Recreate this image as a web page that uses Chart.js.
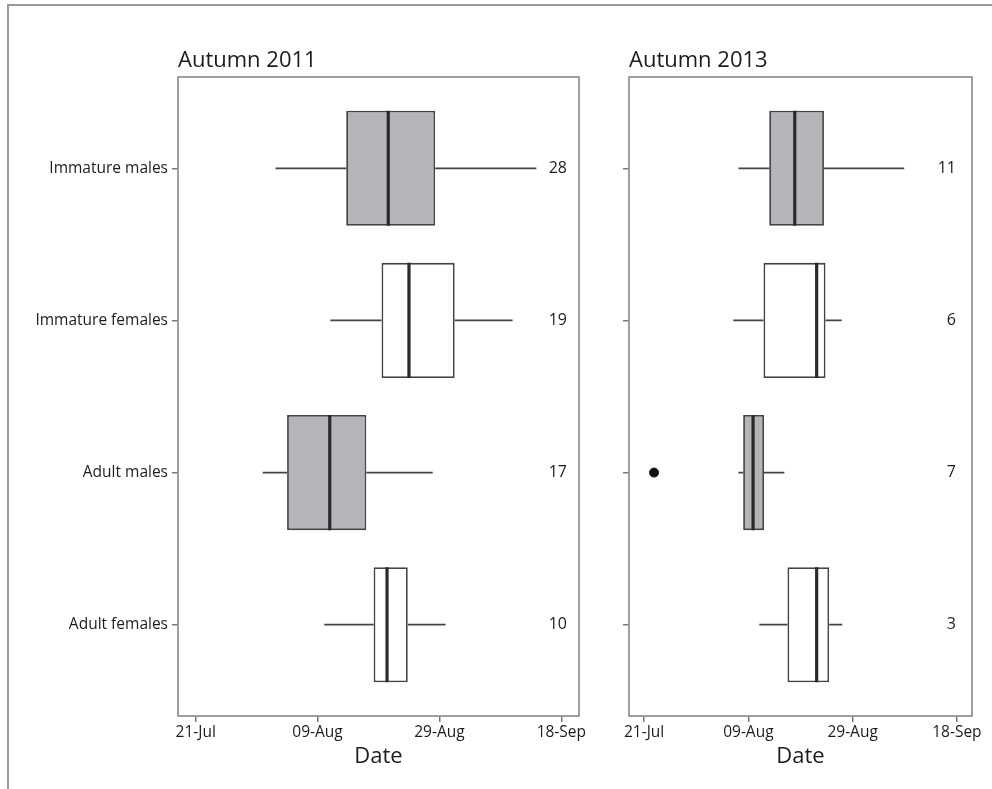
<!DOCTYPE html>
<html>
<head>
<meta charset="utf-8">
<script src="https://cdn.jsdelivr.net/npm/chart.js@4.4.1/dist/chart.umd.min.js"></script>
<style>
  html, body { margin: 0; padding: 0; background: #fff; }
  #wrap { position: relative; width: 992px; height: 789px; overflow: hidden; }
  #frame { position: absolute; left: 7px; top: 4px; width: 992px; height: 800px;
           border-top: 2px solid #9a9a9a; border-left: 2px solid #9a9a9a; }
  #c1 { position: absolute; left: 0; top: 0; }
  #c2 { position: absolute; left: 592px; top: 0; }
</style>
</head>
<body>
<div id="wrap">
  <div id="frame"></div>
  <canvas id="c1" width="592" height="789"></canvas>
  <canvas id="c2" width="400" height="789"></canvas>
</div>
<script>
// ---------- DATA (x values: days, tick 0 = 21-Jul, 20-day tick spacing) ----------
const categories = ['Immature males', 'Immature females', 'Adult males', 'Adult females'];
const tickValues = [0, 20, 40, 60];
const tickLabels = ['21-Jul', '09-Aug', '29-Aug', '18-Sep'];

const low2011    = [13.1, 22.1, 11.0, 21.1];
const q1_2011    = [24.7, 30.5, 15.0, 29.2];
const median2011 = [31.6, 35.0, 22.0, 31.4];
const q3_2011    = [39.3, 42.5, 28.0, 34.8];
const high2011   = [55.9, 52.0, 38.9, 41.0];
const counts2011 = [28, 19, 17, 10];

const low2013    = [18.1, 17.1, 18.1, 22.1];
const q1_2013    = [24.0, 22.9, 19.0, 27.5];
const median2013 = [28.9, 33.1, 20.9, 33.1];
const q3_2013    = [34.5, 34.8, 23.0, 35.5];
const high2013   = [49.9, 37.9, 26.9, 38.0];
const counts2013 = [11, 6, 7, 3];
const outlierCat2013 = [2];
const outlierVal2013 = [1.9];

// ---------- STYLE ----------
const FONT = "'Open Sans', 'DejaVu Sans', sans-serif";
const TEXT = '#1c1c1c';
const BOX_FILL_MALE = '#b4b5b9';
const BOX_FILL_FEMALE = '#ffffff';
const BOX_EDGE = '#444444';
const MEDIAN = '#2a2a2a';
const FRAME = '#959595';
const BAR_PCT = 0.757;
const HALF = BAR_PCT / 2;

function buildDatasets(low, q1, med, q3, high, outCat, outVal) {
  const boxes = categories.map((c, i) => ({ x: [q1[i], q3[i]], y: i }));
  const whiskers = [];
  const medians = [];
  categories.forEach((c, i) => {
    whiskers.push({ x: low[i], y: i }, { x: q1[i], y: i }, { x: null, y: null });
    whiskers.push({ x: q3[i], y: i }, { x: high[i], y: i }, { x: null, y: null });
    medians.push({ x: med[i], y: i - HALF }, { x: med[i], y: i + HALF }, { x: null, y: null });
  });
  const ds = [
    {
      type: 'bar', data: boxes, order: 3,
      backgroundColor: (ctx) => (ctx.dataIndex % 2 === 0 ? BOX_FILL_MALE : BOX_FILL_FEMALE),
      borderColor: BOX_EDGE, borderWidth: 1.8, borderSkipped: false,
      barPercentage: BAR_PCT, categoryPercentage: 1, grouped: false
    },
    {
      type: 'line', data: whiskers, order: 2, borderColor: BOX_EDGE, borderWidth: 1.8,
      pointRadius: 0, spanGaps: false, fill: false, tension: 0
    },
    {
      type: 'line', data: medians, order: 1, borderColor: MEDIAN, borderWidth: 3.2,
      pointRadius: 0, spanGaps: false, fill: false, tension: 0
    }
  ];
  if (outCat && outCat.length) {
    ds.push({
      type: 'scatter', data: outCat.map((c, k) => ({ x: outVal[k], y: c })), order: 0,
      pointRadius: 4.5, pointBackgroundColor: '#111', pointBorderColor: '#111', showLine: false
    });
  }
  return ds;
}

const framePlugin = {
  id: 'frameAndText',
  beforeDatasetsDraw(chart) {
    const { ctx, chartArea: a } = chart;
    ctx.save();
    ctx.strokeStyle = FRAME;
    ctx.lineWidth = 1.8;
    ctx.strokeRect(a.left, a.top, a.right - a.left, a.bottom - a.top);
    ctx.restore();
  },
  afterDraw(chart, args, opts) {
    const { ctx, chartArea: a, scales } = chart;
    ctx.save();
    ctx.fillStyle = TEXT;
    ctx.font = "500 22px " + FONT;
    ctx.textAlign = 'left';
    ctx.textBaseline = 'alphabetic';
    ctx.fillText(opts.title, a.left, 66.5);
    ctx.font = "500 16px " + FONT;
    ctx.textAlign = 'right';
    ctx.textBaseline = 'middle';
    opts.counts.forEach((n, i) => {
      ctx.fillText(String(n), a.right - opts.countInset, scales.y.getPixelForValue(i));
    });
    ctx.restore();
  }
};

function makeOptions(title, counts, countInset, yWidth, padRight, showLabels) {
  return {
    responsive: false,
    maintainAspectRatio: false,
    animation: false,
    devicePixelRatio: 1,
    indexAxis: 'y',
    layout: { padding: { top: 77, right: padRight, bottom: 0, left: 0 } },
    plugins: {
      legend: { display: false },
      tooltip: { enabled: false },
      frameAndText: { title: title, counts: counts, countInset: countInset }
    },
    scales: {
      x: {
        type: 'linear', min: -2.9, max: 62.9, offset: false,
        afterBuildTicks: (s) => { s.ticks = tickValues.map(v => ({ value: v })); },
        afterFit: (s) => { s.height = 73; },
        border: { display: false },
        grid: { drawOnChartArea: false, drawTicks: true, tickLength: 6, color: '#777', lineWidth: 1.5 },
        ticks: {
          color: TEXT, font: { family: FONT, size: 15.5, weight: '500' }, padding: 1, maxRotation: 0,
          callback: (v) => { const k = tickValues.indexOf(v); return k >= 0 ? tickLabels[k] : ''; }
        },
        title: { display: true, text: 'Date', color: TEXT, font: { family: FONT, size: 22, weight: '500' }, padding: { top: 0, bottom: 19 } }
      },
      y: {
        type: 'linear', min: -0.6, max: 3.6, reverse: true, offset: false,
        afterBuildTicks: (s) => { s.ticks = categories.map((c, i) => ({ value: i })); },
        afterFit: (s) => { s.width = yWidth; },
        border: { display: false },
        grid: { drawOnChartArea: false, drawTicks: true, tickLength: 6, color: '#777', lineWidth: 1.5, offset: false },
        ticks: {
          color: TEXT, font: { family: FONT, size: 15.5, weight: '500' }, padding: 4,
          callback: (v) => (showLabels ? (categories[v] || '') : '')
        }
      }
    }
  };
}

new Chart(document.getElementById('c1'), {
  type: 'bar',
  data: { datasets: buildDatasets(low2011, q1_2011, median2011, q3_2011, high2011, [], []) },
  options: makeOptions('Autumn 2011', counts2011, 12, 178, 13, true),
  plugins: [framePlugin]
});

new Chart(document.getElementById('c2'), {
  type: 'bar',
  data: { datasets: buildDatasets(low2013, q1_2013, median2013, q3_2013, high2013, outlierCat2013, outlierVal2013) },
  options: makeOptions('Autumn 2013', counts2013, 16, 37, 20, false),
  plugins: [framePlugin]
});
</script>
</body>
</html>
